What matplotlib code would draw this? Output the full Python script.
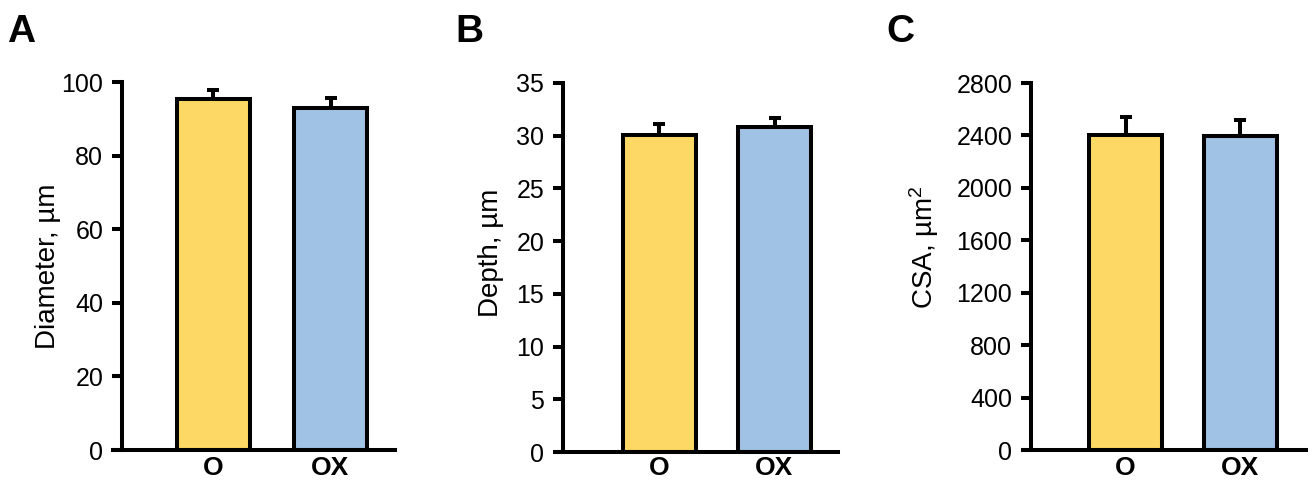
import matplotlib
matplotlib.use("Agg")
import matplotlib.pyplot as plt

plt.rcParams["font.family"] = ["Liberation Sans", "DejaVu Sans"]
plt.rcParams["mathtext.fontset"] = "custom"
plt.rcParams["mathtext.rm"] = "Liberation Sans"
plt.rcParams["mathtext.default"] = "regular"

# data
groups = ["O", "OX"]
diameter = [95.4, 93.0]
diameter_err = [2.4, 2.7]
depth = [30.1, 30.8]
depth_err = [1.0, 0.9]
csa = [2400, 2393]
csa_err = [138, 122]

panel_letters = ["A", "B", "C"]
y_labels = ["Diameter, µm", "Depth, µm", "CSA, µm$^{2}$"]
y_ticks = [list(range(0, 101, 20)), list(range(0, 36, 5)), list(range(0, 2801, 400))]

bar_colors = ["#FDD865", "#A0C2E5"]

W, H = 1313, 487
fig = plt.figure(figsize=(W / 100, H / 100), dpi=100)

# pixel layout: left, right, bottom, top, spine x, centre O, centre OX
layout = [
    (113, 395, 450, 82, 122, 213, 330.5),
    (557, 838, 452, 83, 563, 659, 774.5),
    (1023, 1306, 450, 83, 1031, 1125.5, 1240),
]
letter_x = [7, 455, 886]
# y label anchor (right edge x, centre y) in pixels
label_pos = [(61, 266), (504, 253), (941, 247)]
xlabel_pad = [4, 3, 4]

values = [diameter, depth, csa]
errors = [diameter_err, depth_err, csa_err]

lw = 2.9
for i in range(3):
    left, right, bottom, top, sx, c0, c1 = layout[i]
    ax = fig.add_axes([left / W, 1 - bottom / H, (right - left) / W, (bottom - top) / H])
    unit = c1 - c0
    ax.set_xlim((left - c0) / unit, (right - c0) / unit)
    ax.set_ylim(y_ticks[i][0], y_ticks[i][-1])

    yerr = [[0, 0], errors[i]]
    ax.bar([0, 1], values[i], width=73 / unit, color=bar_colors,
           edgecolor="black", linewidth=lw, zorder=3)
    ax.errorbar([0, 1], values[i], yerr=yerr, fmt="none", ecolor="black",
                elinewidth=lw, capsize=4.5, capthick=lw, zorder=2)

    ax.spines["top"].set_visible(False)
    ax.spines["right"].set_visible(False)
    ax.spines["left"].set_position(("data", (sx - c0) / unit))
    ax.spines["left"].set_linewidth(lw)
    ax.spines["bottom"].set_linewidth(lw)
    ax.spines["bottom"].set_zorder(4)

    ax.set_yticks(y_ticks[i])
    ax.tick_params(axis="y", direction="out", length=7.5, width=lw, labelsize=18, pad=6)
    ax.set_xticks([0, 1])
    ax.set_xticklabels(groups, fontsize=19, fontweight="bold")
    ax.tick_params(axis="x", length=0, pad=xlabel_pad[i])
    ax.set_ylabel(y_labels[i], fontsize=20)
    lx, ly = label_pos[i]
    ax.yaxis.set_label_coords(lx / W, 1 - ly / H, transform=fig.transFigure)

    fig.text(letter_x[i] / W, 1 - 42 / H, panel_letters[i], fontsize=28,
             fontweight="bold", ha="left", va="baseline")

fig.savefig("out.png", dpi=100)
